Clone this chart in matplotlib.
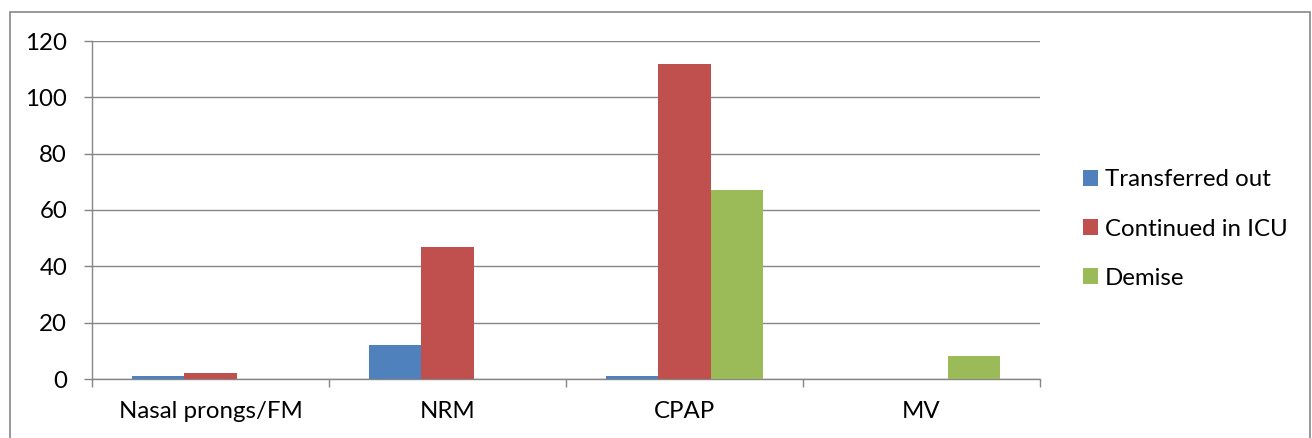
import matplotlib
matplotlib.use("Agg")
import matplotlib.pyplot as plt
from matplotlib.patches import Rectangle
import numpy as np

categories = ["Nasal prongs/FM", "NRM", "CPAP", "MV"]
series_names = ["Transferred out", "Continued in ICU", "Demise"]
transferred_out = [1, 12, 1, 0]
continued_in_icu = [2, 47, 112, 0]
demise = [0, 0, 67, 8]
y_ticks = [0, 20, 40, 60, 80, 100, 120]

colors = ["#4F81BD", "#C0504D", "#9BBB59"]
grid_color = "#868686"

plt.rcParams["font.family"] = ["Lato", "DejaVu Sans"]
FS = 17.3

W, H = 1312, 438
fig = plt.figure(figsize=(W / 100, H / 100), dpi=100)
ax = fig.add_axes([92 / W, 1 - 379 / H, (1040 - 92) / W, (379 - 41) / H])

x = np.arange(len(categories))
width = 0.22
offsets = [-width, 0, width]
for vals, off, col, name in zip([transferred_out, continued_in_icu, demise], offsets, colors, series_names):
    ax.bar(x + off, vals, width=width, color=col, label=name, zorder=3)

ax.set_xlim(-0.5, len(categories) - 0.5)
ax.set_ylim(0, 120)
ax.set_yticks(y_ticks)
ax.set_yticklabels([str(v) for v in y_ticks])
ax.yaxis.grid(True, color=grid_color, linewidth=1, zorder=0)
ax.set_axisbelow(True)

# category labels centred, ticks at category boundaries
ax.set_xticks(x)
ax.set_xticklabels(categories)
ax.tick_params(axis="x", which="major", length=0, pad=16, labelsize=FS)
ax.set_xticks(np.arange(-0.5, len(categories), 1.0), minor=True)
ax.tick_params(axis="x", which="minor", length=6, color=grid_color, width=1)
ax.tick_params(axis="y", length=6, color=grid_color, width=1, pad=12, labelsize=FS)

for side in ["top", "right"]:
    ax.spines[side].set_visible(False)
for side in ["left", "bottom"]:
    ax.spines[side].set_color(grid_color)
    ax.spines[side].set_linewidth(1)

leg = fig.legend(loc="center left", bbox_to_anchor=(1061 / W, 1 - 229 / H),
                 frameon=False, fontsize=FS, handlelength=0.62, handleheight=0.62,
                 handletextpad=0.3, labelspacing=1.17)

# outer chart border
fig.patches.append(Rectangle((10 / W, -0.05), 1300 / W, 1.05 - 12 / H,
                             transform=fig.transFigure, fill=False,
                             edgecolor=grid_color, linewidth=1.2))

fig.savefig("out.png", dpi=100)
